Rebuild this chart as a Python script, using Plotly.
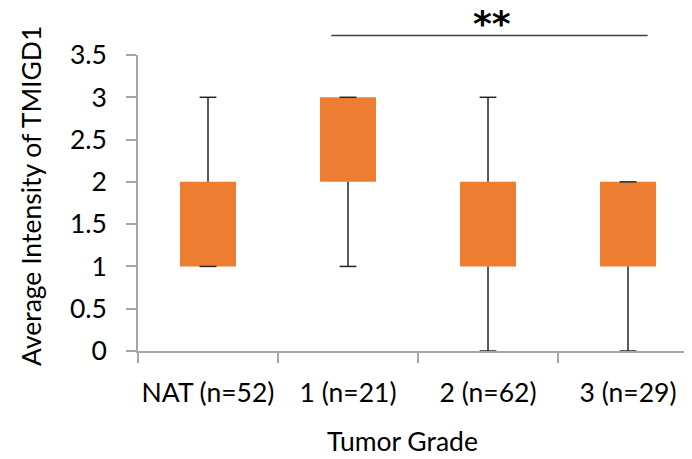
import plotly.graph_objects as go

categories = ["NAT (n=52)", "1 (n=21)", "2 (n=62)", "3 (n=29)"]
q1_vals = [1, 2, 1, 1]
q3_vals = [2, 3, 2, 2]
min_vals = [1, 1, 0, 0]
max_vals = [3, 3, 3, 2]
y_title = "Average Intensity of TMIGD1"
x_title = "Tumor Grade"
sig_text = "**"

FONT = "Lato"
FS = 26.5
BOX_COLOR = "#ED7D31"
WHISK_COLOR = "#262626"
AXIS_COLOR = "#A6A6A6"

fig = go.Figure()

# boxes (Q1 -> Q3)
fig.add_trace(go.Bar(
    x=categories,
    y=[b - a for a, b in zip(q1_vals, q3_vals)],
    base=q1_vals,
    width=0.4,
    marker=dict(color=BOX_COLOR, line=dict(width=0)),
    showlegend=False,
    hoverinfo="skip",
))

# whiskers
wx, wy = [], []
for c, a, b, lo, hi in zip(categories, q1_vals, q3_vals, min_vals, max_vals):
    wx += [c, c, None, c, c, None]
    wy += [b, hi, None, a, lo, None]
fig.add_trace(go.Scatter(
    x=wx, y=wy, mode="lines",
    line=dict(color=WHISK_COLOR, width=1.5),
    showlegend=False, hoverinfo="skip",
))

# caps
fig.add_trace(go.Scatter(
    x=categories + categories,
    y=max_vals + min_vals,
    mode="markers",
    marker=dict(symbol="line-ew", size=12, line=dict(color=WHISK_COLOR, width=1.5)),
    showlegend=False, hoverinfo="skip",
))

fig.update_layout(
    width=684, height=451,
    margin=dict(l=130, r=0, t=47, b=108),
    plot_bgcolor="white", paper_bgcolor="white",
    font=dict(family=FONT, size=FS, color="#000000"),
    xaxis=dict(
        type="category",
        range=[-0.5, 3.457],
        showline=True, linecolor=AXIS_COLOR, linewidth=1.5,
        ticks="outside", tickson="boundaries", ticklen=10, tickcolor=AXIS_COLOR, tickwidth=1.5,
        showgrid=False, zeroline=False,
        tickangle=0, automargin=False,
        tickfont=dict(family=FONT, size=FS, color="#000000"),
        ticklabelstandoff=17,
    ),
    yaxis=dict(
        range=[0, 3.5], dtick=0.5, tick0=0,
        showline=True, linecolor=AXIS_COLOR, linewidth=1.5,
        ticks="outside", ticklen=10, tickcolor=AXIS_COLOR, tickwidth=1.5,
        showgrid=False, zeroline=False, automargin=False,
        tickfont=dict(family=FONT, size=FS, color="#000000"),
        ticklabelstandoff=14,
    ),
    shapes=[dict(
        type="line", xref="x", yref="paper",
        x0=1 - 0.12, x1=3 + 0.14, y0=1.0655, y1=1.0655,
        line=dict(color="#404040", width=1.5),
    )],
    annotations=[
        dict(text=y_title, xref="paper", yref="paper", x=-0.193, y=0.524,
             textangle=-90, showarrow=False, xanchor="center", yanchor="middle",
             font=dict(family=FONT, size=FS, color="#000000")),
        dict(text=x_title, xref="paper", yref="paper", x=0.478, y=-0.303,
             showarrow=False, xanchor="center", yanchor="middle",
             font=dict(family=FONT, size=FS, color="#000000")),
        dict(text=sig_text, xref="x", yref="paper", x=2.029, y=1.105,
             showarrow=False, xanchor="center", yanchor="middle",
             font=dict(family="DejaVu Sans", size=36, color="#000000", weight="bold")),
    ],
)

fig.write_html("out.html")
